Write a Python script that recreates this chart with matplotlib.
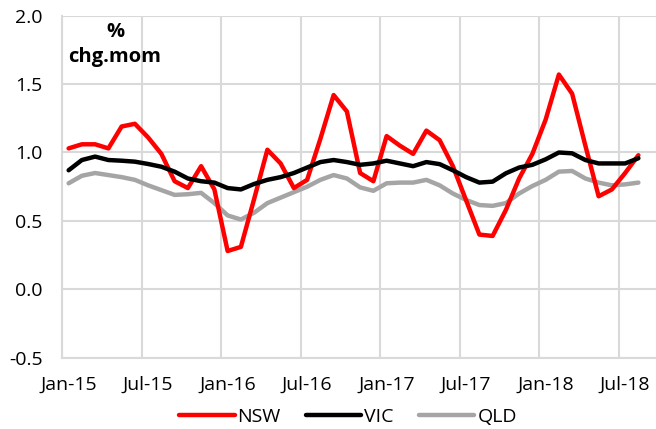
import matplotlib
matplotlib.use("Agg")
import matplotlib.pyplot as plt
from matplotlib.ticker import FixedLocator, NullFormatter

plt.rcParams['font.family'] = ['Open Sans', 'DejaVu Sans']

months = ['Jan', 'Feb', 'Mar', 'Apr', 'May', 'Jun', 'Jul', 'Aug', 'Sep', 'Oct', 'Nov', 'Dec']
dates = [f"{m}-{y}" for y in ['15', '16', '17', '18'] for m in months][:44]

nsw = [1.03, 1.06, 1.06, 1.03, 1.19, 1.21, 1.11, 0.99, 0.79, 0.74, 0.90, 0.73,
       0.28, 0.31, 0.66, 1.02, 0.92, 0.74, 0.80, 1.10, 1.42, 1.30, 0.85, 0.79,
       1.12, 1.05, 0.99, 1.16, 1.09, 0.90, 0.65, 0.40, 0.39, 0.58, 0.81, 0.99,
       1.24, 1.57, 1.43, 1.05, 0.68, 0.73, 0.85, 0.98]
vic = [0.87, 0.945, 0.97, 0.945, 0.94, 0.933, 0.916, 0.896, 0.86, 0.81, 0.79, 0.78,
       0.74, 0.73, 0.77, 0.80, 0.82, 0.85, 0.89, 0.93, 0.945, 0.93, 0.91, 0.92,
       0.94, 0.92, 0.90, 0.93, 0.915, 0.87, 0.82, 0.78, 0.787, 0.848, 0.89, 0.91,
       0.95, 1.00, 0.994, 0.945, 0.92, 0.92, 0.92, 0.958]
qld = [0.775, 0.83, 0.85, 0.835, 0.82, 0.80, 0.76, 0.725, 0.69, 0.695, 0.705, 0.63,
       0.54, 0.51, 0.56, 0.63, 0.67, 0.71, 0.75, 0.80, 0.835, 0.81, 0.745, 0.72,
       0.775, 0.78, 0.78, 0.80, 0.76, 0.70, 0.653, 0.616, 0.61, 0.63, 0.70, 0.755,
       0.80, 0.86, 0.865, 0.81, 0.78, 0.76, 0.767, 0.78]

yticks = [-0.5, 0.0, 0.5, 1.0, 1.5, 2.0]
xlabels = ['Jan-15', 'Jul-15', 'Jan-16', 'Jul-16', 'Jan-17', 'Jul-17', 'Jan-18', 'Jul-18']

W, H = 656, 429
fig = plt.figure(figsize=(W / 100, H / 100), dpi=100)
ax = fig.add_axes([62 / W, 1 - 357.7 / H, 594 / W, (357.7 - 15.7) / H])

x = list(range(len(dates)))
lw = 3.2
ax.plot(x, nsw, color='#FF0000', lw=lw, solid_joinstyle='round', solid_capstyle='round', label='NSW', zorder=3)
ax.plot(x, vic, color='#000000', lw=lw, solid_joinstyle='round', solid_capstyle='round', label='VIC', zorder=4)
ax.plot(x, qld, color='#A5A5A5', lw=lw, solid_joinstyle='round', solid_capstyle='round', label='QLD', zorder=2)

ax.set_xlim(-0.5, 44.33)
ax.set_ylim(-0.5, 2.0)
ax.set_yticks(yticks)
ax.set_yticklabels([f"{v:.1f}" for v in yticks])

major = [dates.index(l) for l in xlabels]
ax.set_xticks(major)
ax.set_xticklabels(xlabels)
ax.xaxis.set_minor_locator(FixedLocator([m - 0.5 for m in major]))
ax.xaxis.set_minor_formatter(NullFormatter())

gc = '#D9D9D9'
ax.grid(True, axis='y', which='major', color=gc, lw=1.5)
ax.grid(True, axis='x', which='minor', color=gc, lw=1.5)
ax.grid(False, axis='x', which='major')
ax.set_axisbelow(True)
for s in ['top', 'right']:
    ax.spines[s].set_visible(False)
for s in ['left', 'bottom']:
    ax.spines[s].set_color(gc)
    ax.spines[s].set_linewidth(1.5)
ax.tick_params(axis='both', which='both', length=0, labelsize=14, colors='black')
ax.tick_params(axis='y', pad=14)
ax.tick_params(axis='x', pad=13)

fig.text(115 / W, 1 - 32 / H, '%', ha='center', va='center', fontsize=14.5, fontweight='bold')
fig.text(115 / W, 1 - 57 / H, 'chg.mom', ha='center', va='center', fontsize=14.5, fontweight='bold')

fig.legend(loc='center', bbox_to_anchor=(348 / W, 1 - 417 / H), ncol=3, frameon=False,
           fontsize=14, handlelength=2.85, handletextpad=0.15, columnspacing=1.3,
           borderaxespad=0, borderpad=0)

fig.savefig('out.png', dpi=100)
